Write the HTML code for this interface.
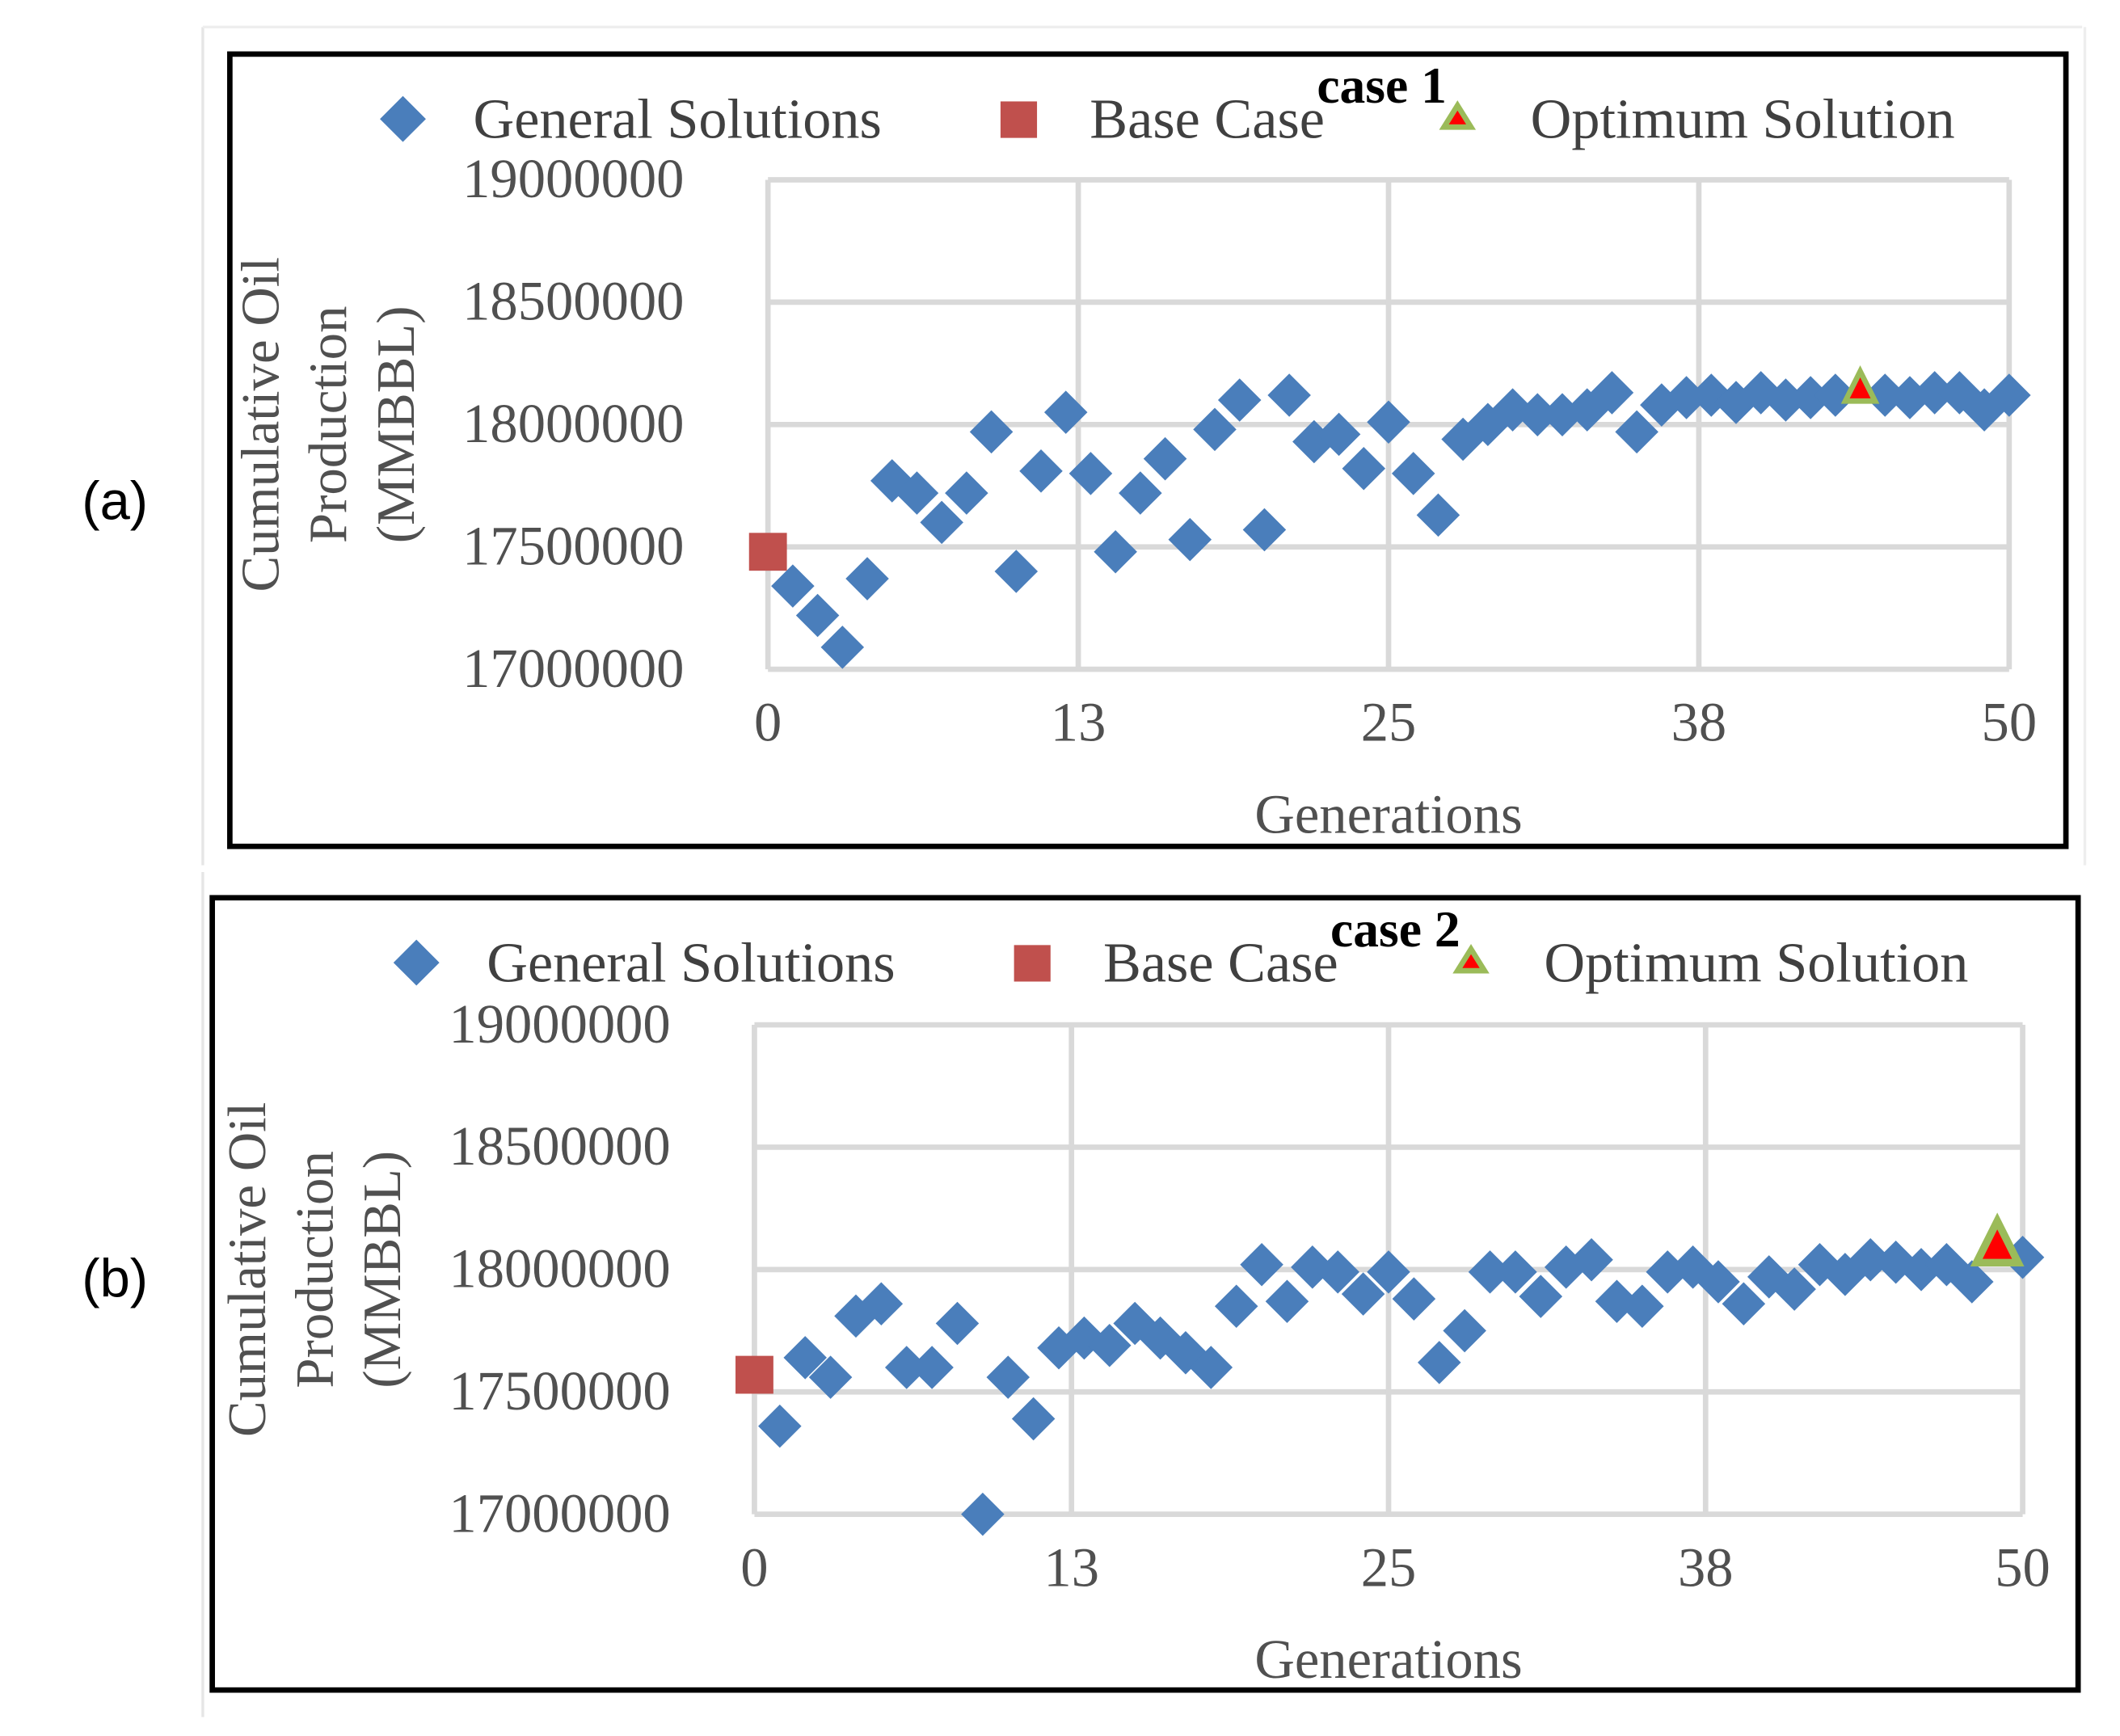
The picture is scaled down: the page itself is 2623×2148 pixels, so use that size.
<!DOCTYPE html>
<html><head><meta charset="utf-8"><style>
html,body{margin:0;padding:0;background:#fff;}
svg{display:block;}
text{font-family:"Liberation Serif",serif;}
</style></head><body>
<svg id="fig" width="2623" height="2148" viewBox="0 0 1568 1284" preserveAspectRatio="none" xmlns="http://www.w3.org/2000/svg">
<rect x="0" y="0" width="1568" height="1284" fill="#fff"/>
<line x1="150" y1="20" x2="150" y2="640" stroke="#e6e6e6" stroke-width="2"/>
<line x1="150" y1="20" x2="1540" y2="20" stroke="#eeeeee" stroke-width="2"/>
<line x1="1542" y1="20" x2="1542" y2="640" stroke="#eeeeee" stroke-width="2"/>
<line x1="150" y1="645" x2="150" y2="1270" stroke="#e6e6e6" stroke-width="2"/>
<text x="85" y="384" font-size="40" text-anchor="middle" style="font-family:'Liberation Sans',sans-serif">(a)</text>
<text x="85" y="959" font-size="40" text-anchor="middle" style="font-family:'Liberation Sans',sans-serif">(b)</text>
<g id="pa"></g>
<g id="pb"></g>
</svg>
<script>
const yTicks = [17000000, 17500000, 18000000, 18500000, 19000000];
const xTicks = ['0', '13', '25', '38', '50'];
const baseA = [0, 17480000];
const optA = [44, 18140000];
const genA = [17340000,17220000,17090000,17370000,17770000,17720000,17600000,17720000,17970000,17400000,17810000,18050000,17800000,17480000,17720000,17860000,17530000,17980000,18100000,17570000,18120000,17930000,17960000,17820000,18010000,17800000,17630000,17940000,18000000,18060000,18040000,18040000,18060000,18130000,17970000,18080000,18110000,18120000,18090000,18130000,18100000,18110000,18120000,null,18120000,18110000,18130000,18130000,18060000,18120000];
const baseB = [0, 17570000];
const optB = [49, 18090000];
const genB = [17360000,17640000,17560000,17810000,17860000,17600000,17600000,17780000,17000000,17560000,17390000,17680000,17720000,17690000,17780000,17720000,17660000,17600000,17850000,18020000,17870000,18010000,17990000,17900000,17990000,17880000,17620000,17750000,17990000,17990000,17890000,18010000,18040000,17870000,17850000,17990000,18010000,17950000,17860000,17970000,17920000,18020000,17980000,18040000,18030000,18000000,18020000,17950000,null,18050000];

const NS="http://www.w3.org/2000/svg";
function mk(parent,tag,attrs,txt){const e=document.createElementNS(NS,tag);for(const k in attrs)e.setAttribute(k,attrs[k]);if(txt!==undefined)e.textContent=txt;parent.appendChild(e);return e;}

function panel(g,cfg,gen,base,opt,caseLabel,optScale){
  const sx=v=>cfg.x0+(v-0)/(50-0)*(cfg.x1-cfg.x0);
  const sy=v=>cfg.y1-(v-17000000)/(19000000-17000000)*(cfg.y1-cfg.y0);
  const fr=mk(g,'rect',{x:cfg.fx,y:cfg.fy,width:cfg.fw,height:cfg.fh,fill:'none',stroke:'#000','stroke-width':4});
  
  
  yTicks.forEach(t=>{
    const l=mk(g,'line',{x1:cfg.x0,x2:cfg.x1,y1:sy(t),y2:sy(t),stroke:'#d9d9d9','stroke-width':4});
    
    
    const tx=mk(g,'text',{x:cfg.x0-62,y:sy(t)+13,'font-size':41,'text-anchor':'end',fill:'#505050'},String(t));
    
    
  });
  xTicks.forEach((t,i)=>{
    const px=cfg.x0+i/(xTicks.length-1)*(cfg.x1-cfg.x0);
    const l=mk(g,'line',{x1:px,x2:px,y1:cfg.y0,y2:cfg.y1,stroke:'#d9d9d9','stroke-width':4});
    
    
    const tx=mk(g,'text',{x:px,y:cfg.y1+53,'font-size':41,'text-anchor':'middle',fill:'#505050'},t);
    
    
  });
  const xt=mk(g,'text',{x:(cfg.x0+cfg.x1)/2,y:cfg.y1+121,'font-size':41,'text-anchor':'middle',fill:'#505050'},'Generations');
  
  
  const cy=(cfg.y0+cfg.y1)/2, ax=cfg.x0-312;
  const yt=mk(g,'text',{transform:`translate(${ax},${cy}) rotate(-90)`,'font-size':40,'text-anchor':'middle',fill:'#505050'});
  
  
  mk(yt,'tspan',{x:0,y:-50},'Cumulative Oil');
  mk(yt,'tspan',{x:0,y:0},'Production');
  mk(yt,'tspan',{x:0,y:50},'(MMBBL)');
  gen.forEach((v,i)=>{
    if(v===null)return;
    const x=sx(i+1),y=sy(v),r=16;
    const d=mk(g,'path',{d:`M${x} ${y-r}L${x+r} ${y}L${x} ${y+r}L${x-r} ${y}Z`,fill:'#4a7ebb'});
    
    
  });
  const bx=sx(base[0]),by=sy(base[1]);
  const b=mk(g,'rect',{x:bx-14,y:by-14,width:28,height:28,fill:'#c0504d'});
  
  
  const ox=sx(opt[0]),oy=sy(opt[1]),s=optScale;
  const o=mk(g,'path',{d:`M${ox} ${oy-14*s}L${ox+11*s} ${oy+8*s}L${ox-11*s} ${oy+8*s}Z`,fill:'#ff0000',stroke:'#9bbb59','stroke-width':4*s});
  
  
  const ly=cfg.fy+48;
  const l1=mk(g,'path',{d:`M${cfg.lx} ${ly-17}L${cfg.lx+17} ${ly}L${cfg.lx} ${ly+17}L${cfg.lx-17} ${ly}Z`,fill:'#4a7ebb'});
  
  
  const t1=mk(g,'text',{x:cfg.lx+52,y:ly+14,'font-size':42,fill:'#404040'},'General Solutions');
  
  
  const l2=mk(g,'rect',{x:cfg.lx+442,y:ly-13,width:27,height:27,fill:'#c0504d'});
  
  
  const t2=mk(g,'text',{x:cfg.lx+508,y:ly+14,'font-size':42,fill:'#404040'},'Base Case');
  
  
  const l3=mk(g,'path',{d:`M${cfg.lx+780} ${ly-10}L${cfg.lx+790} ${ly+6}L${cfg.lx+770} ${ly+6}Z`,fill:'#ff0000',stroke:'#9bbb59','stroke-width':4});
  
  
  const t3=mk(g,'text',{x:cfg.lx+834,y:ly+14,'font-size':42,fill:'#404040'},'Optimum Solution');
  
  
  const c=mk(g,'text',{x:cfg.lx+676,y:ly-12,'font-size':38,'font-weight':'bold',fill:'#000'},caseLabel);
  
  
}
panel(document.getElementById('pa'),{fx:170,fy:40,fw:1358,fh:586,x0:568,x1:1486,y0:133,y1:495,lx:298},genA,baseA,optA,'case 1',1);
panel(document.getElementById('pb'),{fx:157,fy:664,fw:1380,fh:586,x0:558,x1:1496,y0:758,y1:1120,lx:308},genB,baseB,optB,'case 2',1.4);
</script>
</body></html>
